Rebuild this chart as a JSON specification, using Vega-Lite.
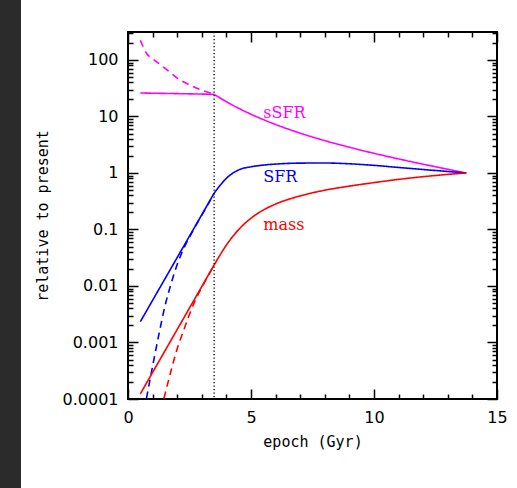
{
  "$schema": "https://vega.github.io/schema/vega-lite/v6.json",
  "background": "white",
  "padding": 0,
  "bounds": "flush",
  "spacing": 107,
  "config": {
    "view": {"stroke": "black", "strokeWidth": 2},
    "font": "DejaVu Sans",
    "axis": {"labelColor": "black", "titleColor": "black", "tickColor": "black"}
  },
  "hconcat": [
    {
      "width": 21,
      "height": 488,
      "data": {"values": []},
      "mark": "point",
      "view": {"fill": "#2b2b2b", "stroke": null}
    },
    {
      "spacing": 31,
      "bounds": "flush",
      "vconcat": [
        {
          "width": 369,
          "height": 1,
          "data": {"values": []},
          "mark": "point",
          "view": {"stroke": null}
        },
        {
          "width": 369,
          "height": 367,
          "resolve": {"axis": {"x": "independent", "y": "independent"}},
          "layer": [
            {
              "data": {"values": [
                {"t": 0.5, "v": 26.06, "series": "sSFR", "kind": "solid", "seg": "early"},
                {"t": 3.5, "v": 24.72, "series": "sSFR", "kind": "solid", "seg": "early"},
                {"t": 3.5, "v": 24.72, "series": "sSFR", "kind": "solid", "seg": "late"},
                {"t": 4.0, "v": 18.27, "series": "sSFR", "kind": "solid", "seg": "late"},
                {"t": 4.5, "v": 13.96, "series": "sSFR", "kind": "solid", "seg": "late"},
                {"t": 5.0, "v": 10.96, "series": "sSFR", "kind": "solid", "seg": "late"},
                {"t": 5.5, "v": 8.8, "series": "sSFR", "kind": "solid", "seg": "late"},
                {"t": 6.0, "v": 7.21, "series": "sSFR", "kind": "solid", "seg": "late"},
                {"t": 7.0, "v": 5.07, "series": "sSFR", "kind": "solid", "seg": "late"},
                {"t": 8.0, "v": 3.74, "series": "sSFR", "kind": "solid", "seg": "late"},
                {"t": 9.0, "v": 2.853, "series": "sSFR", "kind": "solid", "seg": "late"},
                {"t": 10.0, "v": 2.23, "series": "sSFR", "kind": "solid", "seg": "late"},
                {"t": 11.0, "v": 1.775, "series": "sSFR", "kind": "solid", "seg": "late"},
                {"t": 12.0, "v": 1.43, "series": "sSFR", "kind": "solid", "seg": "late"},
                {"t": 13.0, "v": 1.163, "series": "sSFR", "kind": "solid", "seg": "late"},
                {"t": 13.75, "v": 1.0, "series": "sSFR", "kind": "solid", "seg": "late"},
                {"t": 0.5, "v": 223.9, "series": "sSFR", "kind": "dashed", "seg": "early"},
                {"t": 0.6, "v": 177.8, "series": "sSFR", "kind": "dashed", "seg": "early"},
                {"t": 0.75, "v": 131.8, "series": "sSFR", "kind": "dashed", "seg": "early"},
                {"t": 1.0, "v": 104.7, "series": "sSFR", "kind": "dashed", "seg": "early"},
                {"t": 1.25, "v": 87.1, "series": "sSFR", "kind": "dashed", "seg": "early"},
                {"t": 1.5, "v": 71.6, "series": "sSFR", "kind": "dashed", "seg": "early"},
                {"t": 1.75, "v": 58.2, "series": "sSFR", "kind": "dashed", "seg": "early"},
                {"t": 2.0, "v": 47.9, "series": "sSFR", "kind": "dashed", "seg": "early"},
                {"t": 2.5, "v": 36.3, "series": "sSFR", "kind": "dashed", "seg": "early"},
                {"t": 3.0, "v": 29.2, "series": "sSFR", "kind": "dashed", "seg": "early"},
                {"t": 3.5, "v": 24.72, "series": "sSFR", "kind": "dashed", "seg": "early"},
                {"t": 0.5, "v": 0.002333, "series": "SFR", "kind": "solid", "seg": "early"},
                {"t": 3.5, "v": 0.4375, "series": "SFR", "kind": "solid", "seg": "early"},
                {"t": 3.5, "v": 0.4375, "series": "SFR", "kind": "solid", "seg": "late"},
                {"t": 3.75, "v": 0.6095, "series": "SFR", "kind": "solid", "seg": "late"},
                {"t": 4.0, "v": 0.8054, "series": "SFR", "kind": "solid", "seg": "late"},
                {"t": 4.5, "v": 1.135, "series": "SFR", "kind": "solid", "seg": "late"},
                {"t": 5.0, "v": 1.288, "series": "SFR", "kind": "solid", "seg": "late"},
                {"t": 5.5, "v": 1.38, "series": "SFR", "kind": "solid", "seg": "late"},
                {"t": 6.0, "v": 1.439, "series": "SFR", "kind": "solid", "seg": "late"},
                {"t": 7.0, "v": 1.496, "series": "SFR", "kind": "solid", "seg": "late"},
                {"t": 8.0, "v": 1.503, "series": "SFR", "kind": "solid", "seg": "late"},
                {"t": 9.0, "v": 1.455, "series": "SFR", "kind": "solid", "seg": "late"},
                {"t": 10.0, "v": 1.365, "series": "SFR", "kind": "solid", "seg": "late"},
                {"t": 11.0, "v": 1.253, "series": "SFR", "kind": "solid", "seg": "late"},
                {"t": 12.0, "v": 1.153, "series": "SFR", "kind": "solid", "seg": "late"},
                {"t": 13.0, "v": 1.064, "series": "SFR", "kind": "solid", "seg": "late"},
                {"t": 13.75, "v": 1.0, "series": "SFR", "kind": "solid", "seg": "late"},
                {"t": 0.75, "v": 0.0001023, "series": "SFR", "kind": "dashed", "seg": "early"},
                {"t": 1.0, "v": 0.0003802, "series": "SFR", "kind": "dashed", "seg": "early"},
                {"t": 1.25, "v": 0.001349, "series": "SFR", "kind": "dashed", "seg": "early"},
                {"t": 1.5, "v": 0.004365, "series": "SFR", "kind": "dashed", "seg": "early"},
                {"t": 1.75, "v": 0.01096, "series": "SFR", "kind": "dashed", "seg": "early"},
                {"t": 2.0, "v": 0.02399, "series": "SFR", "kind": "dashed", "seg": "early"},
                {"t": 2.25, "v": 0.04467, "series": "SFR", "kind": "dashed", "seg": "early"},
                {"t": 2.5, "v": 0.07328, "series": "SFR", "kind": "dashed", "seg": "early"},
                {"t": 2.75, "v": 0.1161, "series": "SFR", "kind": "dashed", "seg": "early"},
                {"t": 3.0, "v": 0.1799, "series": "SFR", "kind": "dashed", "seg": "early"},
                {"t": 3.25, "v": 0.2786, "series": "SFR", "kind": "dashed", "seg": "early"},
                {"t": 3.5, "v": 0.4375, "series": "SFR", "kind": "dashed", "seg": "early"},
                {"t": 0.5, "v": 0.000123, "series": "mass", "kind": "solid", "seg": "early"},
                {"t": 3.5, "v": 0.02355, "series": "mass", "kind": "solid", "seg": "early"},
                {"t": 3.5, "v": 0.02355, "series": "mass", "kind": "solid", "seg": "late"},
                {"t": 3.75, "v": 0.03589, "series": "mass", "kind": "solid", "seg": "late"},
                {"t": 4.0, "v": 0.05309, "series": "mass", "kind": "solid", "seg": "late"},
                {"t": 4.5, "v": 0.1, "series": "mass", "kind": "solid", "seg": "late"},
                {"t": 5.0, "v": 0.1585, "series": "mass", "kind": "solid", "seg": "late"},
                {"t": 5.5, "v": 0.2213, "series": "mass", "kind": "solid", "seg": "late"},
                {"t": 6.0, "v": 0.2818, "series": "mass", "kind": "solid", "seg": "late"},
                {"t": 7.0, "v": 0.3936, "series": "mass", "kind": "solid", "seg": "late"},
                {"t": 8.0, "v": 0.4955, "series": "mass", "kind": "solid", "seg": "late"},
                {"t": 9.0, "v": 0.5861, "series": "mass", "kind": "solid", "seg": "late"},
                {"t": 10.0, "v": 0.6761, "series": "mass", "kind": "solid", "seg": "late"},
                {"t": 11.0, "v": 0.7709, "series": "mass", "kind": "solid", "seg": "late"},
                {"t": 12.0, "v": 0.861, "series": "mass", "kind": "solid", "seg": "late"},
                {"t": 13.0, "v": 0.9441, "series": "mass", "kind": "solid", "seg": "late"},
                {"t": 13.75, "v": 1.0, "series": "mass", "kind": "solid", "seg": "late"},
                {"t": 1.46, "v": 0.0001023, "series": "mass", "kind": "dashed", "seg": "early"},
                {"t": 1.75, "v": 0.0003162, "series": "mass", "kind": "dashed", "seg": "early"},
                {"t": 2.0, "v": 0.000776, "series": "mass", "kind": "dashed", "seg": "early"},
                {"t": 2.25, "v": 0.001585, "series": "mass", "kind": "dashed", "seg": "early"},
                {"t": 2.5, "v": 0.003162, "series": "mass", "kind": "dashed", "seg": "early"},
                {"t": 2.75, "v": 0.005754, "series": "mass", "kind": "dashed", "seg": "early"},
                {"t": 3.0, "v": 0.009441, "series": "mass", "kind": "dashed", "seg": "early"},
                {"t": 3.25, "v": 0.01503, "series": "mass", "kind": "dashed", "seg": "early"},
                {"t": 3.5, "v": 0.02355, "series": "mass", "kind": "dashed", "seg": "early"}
              ]},
              "mark": {"type": "line", "strokeWidth": 1.6, "interpolate": "monotone", "clip": true},
              "encoding": {
                "x": {
                  "field": "t", "type": "quantitative",
                  "scale": {"domain": [0, 15], "nice": false, "zero": false},
                  "axis": {
                    "orient": "bottom",
                    "values": [0, 1, 2, 3, 4, 5, 6, 7, 8, 9, 10, 11, 12, 13, 14, 15],
                    "labelExpr": "datum.value % 5 == 0 ? format(datum.value, 'd') : ''",
                    "tickSize": {"condition": {"test": "datum.value % 5 == 0", "value": -10}, "value": -5},
                    "tickWidth": 1.5,
                    "domain": false,
                    "grid": false,
                    "labelPadding": 20,
                    "labelFont": "DejaVu Sans",
                    "labelFontSize": 16,
                    "labelFlush": false,
                    "labelOverlap": false,
                    "labelBound": false,
                    "title": "epoch (Gyr)",
                    "titleFont": "DejaVu Sans Mono",
                    "titleFontSize": 15,
                    "titleFontWeight": "normal",
                    "titlePadding": 4
                  }
                },
                "y": {
                  "field": "v", "type": "quantitative",
                  "scale": {"type": "log", "domain": [0.0001, 313], "nice": false},
                  "axis": {
                    "orient": "left",
                    "values": [0.0001, 0.0002, 0.0003, 0.0004, 0.0005, 0.0006, 0.0007, 0.0008, 0.0009, 0.001, 0.002, 0.003, 0.004, 0.005, 0.006, 0.007, 0.008, 0.009, 0.01, 0.02, 0.03, 0.04, 0.05, 0.06, 0.07, 0.08, 0.09, 0.1, 0.2, 0.3, 0.4, 0.5, 0.6, 0.7, 0.8, 0.9, 1, 2, 3, 4, 5, 6, 7, 8, 9, 10, 20, 30, 40, 50, 60, 70, 80, 90, 100, 200, 300],
                    "labelExpr": "abs(log(datum.value)/LN10 - round(log(datum.value)/LN10)) < 0.001 ? format(datum.value, '~g') : ''",
                    "tickSize": {"condition": {"test": "abs(log(datum.value)/LN10 - round(log(datum.value)/LN10)) < 0.001", "value": -10}, "value": -5},
                    "tickWidth": 1.5,
                    "domain": false,
                    "grid": false,
                    "labelPadding": 20,
                    "labelFont": "DejaVu Sans",
                    "labelFontSize": 16,
                    "labelFlush": false,
                    "labelOverlap": false,
                    "labelBound": false,
                    "title": "relative to present",
                    "titleFont": "DejaVu Sans Mono",
                    "titleFontSize": 15,
                    "titleFontWeight": "normal",
                    "titlePadding": 12
                  }
                },
                "color": {
                  "field": "series", "type": "nominal",
                  "scale": {"domain": ["sSFR", "SFR", "mass"], "range": ["#ff00ff", "#0000ff", "#ff0000"]},
                  "legend": null
                },
                "strokeDash": {
                  "field": "kind", "type": "nominal",
                  "scale": {"domain": ["solid", "dashed"], "range": [[1, 0], [7, 5]]},
                  "legend": null
                },
                "detail": {"field": "seg", "type": "nominal"}
              }
            },
            {
              "data": {"values": [{"t": 3.5}]},
              "mark": {"type": "rule", "color": "black", "strokeWidth": 1.3, "strokeDash": [1.3, 2.2]},
              "encoding": {
                "x": {
                  "field": "t", "type": "quantitative",
                  "scale": {"domain": [0, 15], "nice": false, "zero": false},
                  "axis": null
                }
              }
            },
            {
              "data": {"values": [
                {"t": 5.5, "v": 9.5, "label": "sSFR", "series": "sSFR"},
                {"t": 5.5, "v": 0.69, "label": "SFR", "series": "SFR"},
                {"t": 5.5, "v": 0.098, "label": "mass", "series": "mass"}
              ]},
              "mark": {"type": "text", "align": "left", "baseline": "alphabetic", "font": "DejaVu Serif", "fontSize": 16},
              "encoding": {
                "x": {
                  "field": "t", "type": "quantitative",
                  "scale": {"domain": [0, 15], "nice": false, "zero": false},
                  "axis": {
                    "orient": "top",
                    "values": [0, 1, 2, 3, 4, 5, 6, 7, 8, 9, 10, 11, 12, 13, 14, 15],
                    "labels": false,
                    "title": null,
                    "domain": false,
                    "grid": false,
                    "tickWidth": 1.5,
                    "tickSize": {"condition": {"test": "datum.value % 5 == 0", "value": -10}, "value": -5}
                  }
                },
                "y": {
                  "field": "v", "type": "quantitative",
                  "scale": {"type": "log", "domain": [0.0001, 313], "nice": false},
                  "axis": {
                    "orient": "right",
                    "values": [0.0001, 0.0002, 0.0003, 0.0004, 0.0005, 0.0006, 0.0007, 0.0008, 0.0009, 0.001, 0.002, 0.003, 0.004, 0.005, 0.006, 0.007, 0.008, 0.009, 0.01, 0.02, 0.03, 0.04, 0.05, 0.06, 0.07, 0.08, 0.09, 0.1, 0.2, 0.3, 0.4, 0.5, 0.6, 0.7, 0.8, 0.9, 1, 2, 3, 4, 5, 6, 7, 8, 9, 10, 20, 30, 40, 50, 60, 70, 80, 90, 100, 200, 300],
                    "labels": false,
                    "title": null,
                    "domain": false,
                    "grid": false,
                    "tickWidth": 1.5,
                    "tickSize": {"condition": {"test": "abs(log(datum.value)/LN10 - round(log(datum.value)/LN10)) < 0.001", "value": -10}, "value": -5}
                  }
                },
                "text": {"field": "label", "type": "nominal"},
                "color": {
                  "field": "series", "type": "nominal",
                  "scale": {"domain": ["sSFR", "SFR", "mass"], "range": ["#ff00ff", "#0000ff", "#ff0000"]},
                  "legend": null
                }
              }
            }
          ]
        }
      ]
    }
  ]
}
